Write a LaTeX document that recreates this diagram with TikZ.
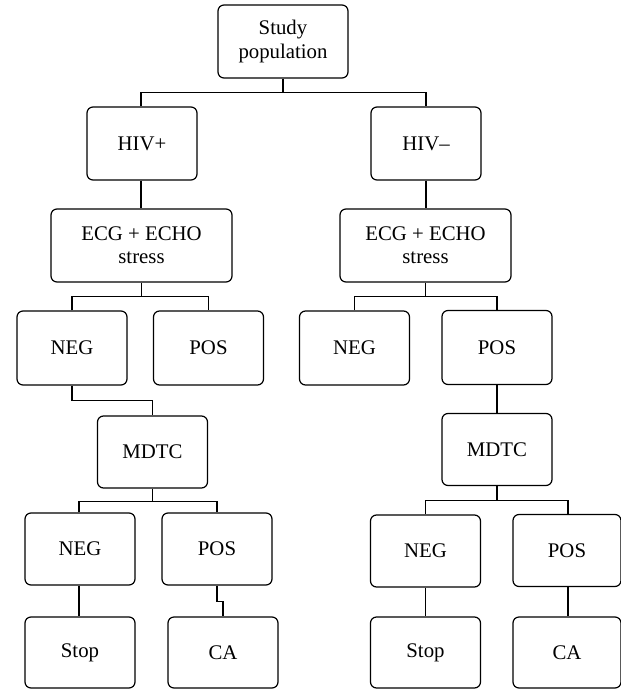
\documentclass[tikz,border=0pt]{standalone}
\usepackage{fontspec}
\setmainfont{Liberation Serif}
\begin{document}
\begin{tikzpicture}[x=0.75pt,y=-0.75pt,
  box/.style={draw, line width=0.9pt, rounded corners=4.5pt, inner sep=0pt, align=center,
    minimum width=82.5pt, minimum height=54.75pt, font=\fontsize{15.6}{17.5}\selectfont},
  conn/.style={line width=0.9pt}]
\useasboundingbox (0,0) rectangle (621,689);
\node[box, minimum width=97.5pt] (sp) at (283,41.5) {Study\\population};
\node[box] (hivp) at (142,143.5) {HIV+};
\node[box] (hivn) at (426,143.5) {HIV–};
\node[box, minimum width=135.75pt] (ecgL) at (141.5,245.5) {ECG + ECHO\\stress};
\node[box, minimum width=128.25pt] (ecgR) at (425.5,245.5) {ECG + ECHO\\stress};
\node[box, minimum height=55.5pt] (negL1) at (72,348) {NEG};
\node[box, minimum height=55.5pt] (posL1) at (208.5,348) {POS};
\node[box, minimum height=55.5pt] (negR1) at (354.5,348) {NEG};
\node[box, minimum height=55.5pt] (posR1) at (497,347.5) {POS};
\node[box, minimum height=54pt] (mdtcL) at (152.5,452) {MDTC};
\node[box, minimum height=54pt] (mdtcR) at (497,449.5) {MDTC};
\node[box, minimum height=54pt] (negL2) at (80,549) {NEG};
\node[box, minimum height=54pt] (posL2) at (217,549) {POS};
\node[box, minimum height=54pt] (negR2) at (425.5,551) {NEG};
\node[box, minimum height=54pt, minimum width=81pt] (posR2) at (567,550.5) {POS};
\node[box, minimum height=53.25pt] (stopL) at (80,652.5) {Stop};
\node[box, minimum height=53.25pt] (caL) at (223,652.5) {CA};
\node[box, minimum height=53.25pt] (stopR) at (425.5,652.5) {Stop};
\node[box, minimum height=53.25pt, minimum width=81pt] (caR) at (567,652.5) {CA};
% connectors
\draw[conn] (sp.south) -- ++(0,14) coordinate (b1);
\draw[conn] ([xshift=-0.75pt]hivp.north) |- (b1) -| (hivn.north);
\draw[conn] ([xshift=-0.75pt]hivp.south) -- ([xshift=-0.75pt]hivp.south |- ecgL.north);
\draw[conn] (hivn.south) -- (hivn.south |- ecgR.north);
\draw[conn] (ecgL.south) -- ++(0,14) coordinate (b2);
\draw[conn] (negL1.north) |- (b2) -| (posL1.north);
\draw[conn] (ecgR.south) -- ++(0,14) coordinate (b3);
\draw[conn] (negR1.north) |- (b3) -| (posR1.north);
\draw[conn] (negL1.south) -- ++(0,15) coordinate (b4);
\draw[conn] (b4) -| (mdtcL.north);
\draw[conn] (posR1.south) -- (mdtcR.north);
\draw[conn] (mdtcL.south) -- ++(0,13) coordinate (b5);
\draw[conn] ([xshift=-0.75pt]negL2.north) |- (b5) -| (posL2.north);
\draw[conn] (mdtcR.south) -- ++(0,14) coordinate (b6);
\draw[conn] (negR2.north) |- (b6) -| ([xshift=0.75pt]posR2.north);
\draw[conn] ([xshift=-0.75pt]negL2.south) -- ([xshift=-0.75pt]negL2.south |- stopL.north);
\draw[conn] (posL2.south) -- ++(0,16) coordinate (b7);
\draw[conn] (b7) -| (caL.north);
\draw[conn] (negR2.south) -- (negR2.south |- stopR.north);
\draw[conn] ([xshift=0.75pt]posR2.south) -- ([xshift=0.75pt]posR2.south |- caR.north);
\end{tikzpicture}
\end{document}
